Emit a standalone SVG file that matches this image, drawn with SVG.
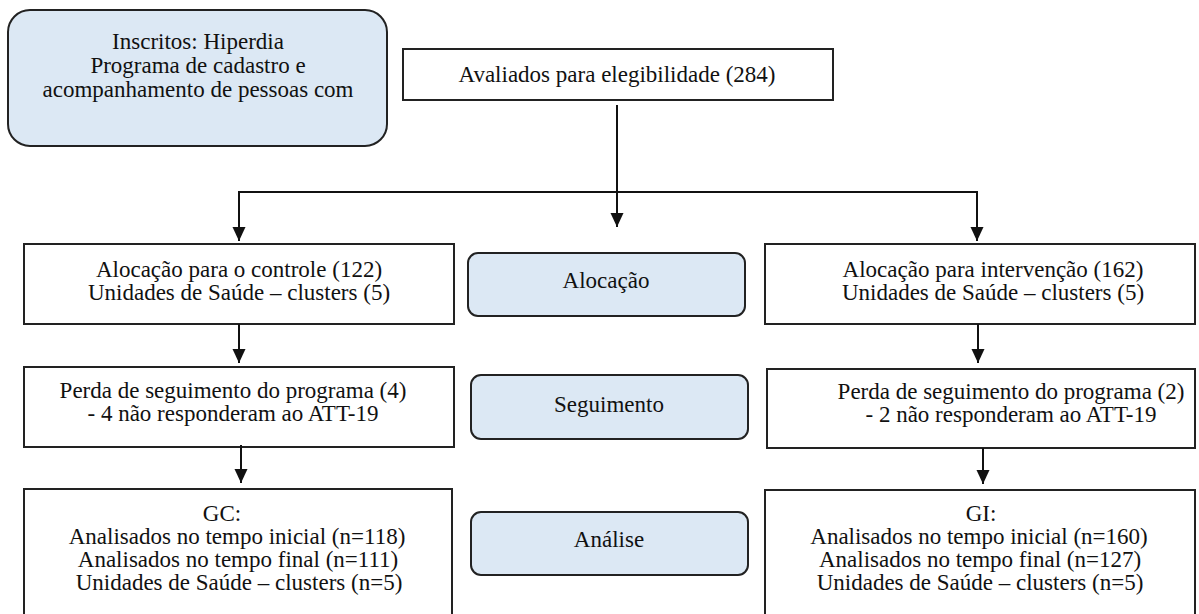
<svg xmlns="http://www.w3.org/2000/svg" width="1199" height="614" viewBox="0 0 1199 614">
<defs>
<marker id="arr" markerUnits="userSpaceOnUse" markerWidth="15" markerHeight="14" refX="14" refY="6.5" orient="auto">
<path d="M0,0 L14,6.5 L0,13 z" fill="#111"/>
</marker>
<style>
.box{fill:#fff;stroke:#222;stroke-width:2}
.rbox{fill:#dce8f4;stroke:#222;stroke-width:2}
.t{font-family:'Liberation Serif','Times New Roman',serif;font-size:23px;fill:#111;text-anchor:middle}
.c{fill:none;stroke:#111;stroke-width:2}
</style>
</defs>
<rect width="1199" height="614" fill="#fff"/>

<g class="t">
<g id="inscritos">
<rect class="box rbox" x="8" y="10" width="379" height="136" rx="22"/>
<text x="198" y="49">Inscritos: Hiperdia</text>
<text x="198" y="73">Programa de cadastro e</text>
<text x="198" y="97">acompanhamento de pessoas com</text>
</g>

<g id="avaliados">
<rect class="box" x="403" y="49" width="430" height="51"/>
<text x="617" y="82">Avaliados para elegibilidade (284)</text>
</g>

<g id="aloc-controle">
<rect class="box" x="24" y="244" width="430" height="80"/>
<text x="239" y="277">Alocação para o controle (122)</text>
<text x="239" y="300">Unidades de Saúde – clusters (5)</text>
</g>

<g id="aloc-label">
<rect class="box rbox" x="468" y="253" width="277" height="63" rx="10"/>
<text x="606" y="288">Alocação</text>
</g>

<g id="aloc-intervencao">
<rect class="box" x="765" y="244" width="430" height="80"/>
<text x="993" y="277">Alocação para intervenção (162)</text>
<text x="993" y="300">Unidades de Saúde – clusters (5)</text>
</g>

<g id="perda-controle">
<rect class="box" x="24" y="367" width="430" height="80"/>
<text x="233" y="398">Perda de seguimento do programa (4)</text>
<text x="233" y="421">- 4 não responderam ao ATT-19</text>
</g>

<g id="seg-label">
<rect class="box rbox" x="471" y="375" width="277" height="64" rx="10"/>
<text x="609" y="412">Seguimento</text>
</g>

<g id="perda-intervencao">
<rect class="box" x="767" y="369" width="428" height="79"/>
<text x="1011" y="399">Perda de seguimento do programa (2)</text>
<text x="1011" y="422">- 2 não responderam ao ATT-19</text>
</g>

<g id="gc">
<rect class="box" x="24" y="489" width="428" height="135"/>
<text x="222" y="521">GC:</text>
<text x="237" y="544">Analisados no tempo inicial (n=118)</text>
<text x="238" y="567">Analisados no tempo final (n=111)</text>
<text x="239" y="590">Unidades de Saúde – clusters (n=5)</text>
</g>

<g id="analise-label">
<rect class="box rbox" x="471" y="512" width="277" height="63" rx="10"/>
<text x="609" y="547">Análise</text>
</g>

<g id="gi">
<rect class="box" x="765" y="490" width="430" height="135"/>
<text x="981" y="521">GI:</text>
<text x="979" y="544">Analisados no tempo inicial (n=160)</text>
<text x="980" y="567">Analisados no tempo final (n=127)</text>
<text x="980" y="590">Unidades de Saúde – clusters (n=5)</text>
</g>
</g>

<g id="connectors">
<line class="c" x1="617" y1="105" x2="617" y2="227" marker-end="url(#arr)"/>
<polyline class="c" points="239,241 239,192 977,192 977,241"/>
<line class="c" x1="239" y1="200" x2="239" y2="241" marker-end="url(#arr)"/>
<line class="c" x1="977" y1="200" x2="977" y2="241" marker-end="url(#arr)"/>
<line class="c" x1="239" y1="324" x2="239" y2="363" marker-end="url(#arr)"/>
<line class="c" x1="978" y1="324" x2="978" y2="363" marker-end="url(#arr)"/>
<line class="c" x1="241" y1="445" x2="241" y2="483" marker-end="url(#arr)"/>
<line class="c" x1="983" y1="448" x2="983" y2="484" marker-end="url(#arr)"/>
</g>
</svg>
